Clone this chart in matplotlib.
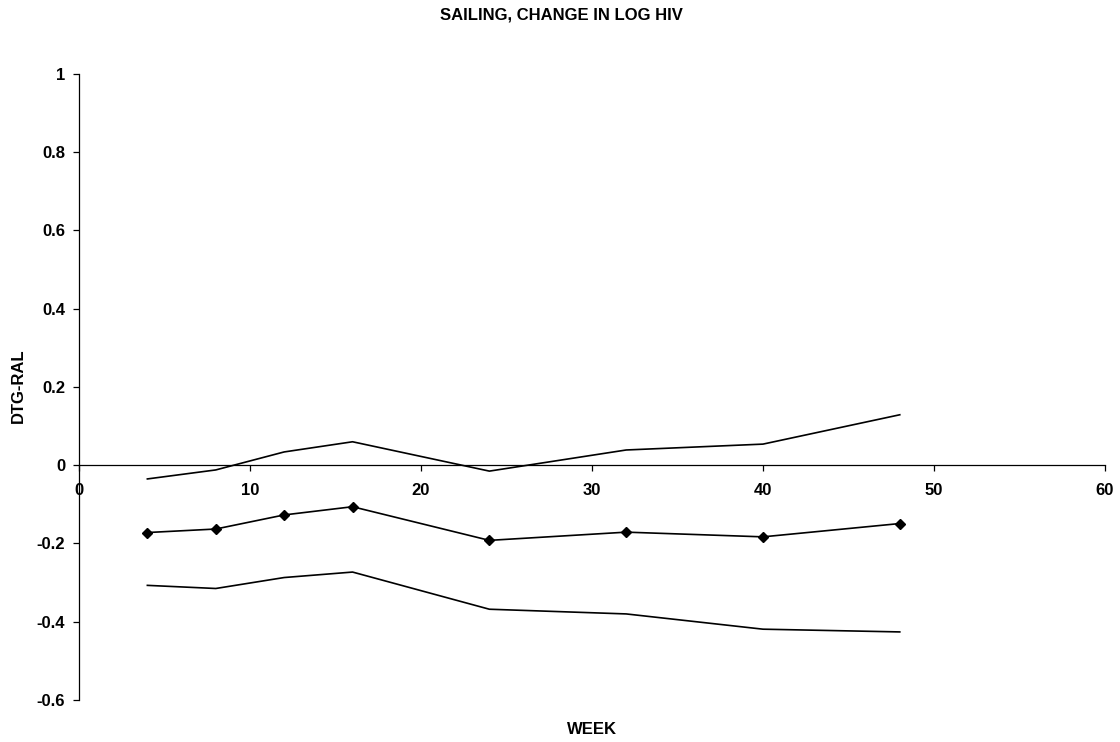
import matplotlib
matplotlib.use("Agg")
import matplotlib.pyplot as plt

# weeks and DTG-RAL difference in change of log HIV (estimate + CI bounds)
weeks = [4, 8, 12, 16, 24, 32, 40, 48]
upper = [-0.035, -0.012, 0.034, 0.060, -0.015, 0.039, 0.054, 0.129]
diff = [-0.172, -0.163, -0.127, -0.106, -0.192, -0.171, -0.183, -0.149]
lower = [-0.307, -0.315, -0.287, -0.273, -0.368, -0.380, -0.419, -0.426]

xticks = [0, 10, 20, 30, 40, 50, 60]
yticks = [-0.6, -0.4, -0.2, 0, 0.2, 0.4, 0.6, 0.8, 1]

plt.rcParams["font.family"] = ["Liberation Sans", "DejaVu Sans"]
plt.rcParams["font.weight"] = "bold"

fig = plt.figure(figsize=(11.2, 7.42), dpi=100)
ax = fig.add_axes([0.0705, 0.0566, 0.9161, 0.8437])

ax.plot(weeks, upper, color="black", lw=1.2)
ax.plot(weeks, diff, color="black", lw=1.2, marker="D", markersize=5.5)
ax.plot(weeks, lower, color="black", lw=1.2)

# spine position first: moving it resets the tick objects
ax.spines["top"].set_visible(False)
ax.spines["right"].set_visible(False)
ax.spines["bottom"].set_position(("data", 0))
ax.spines["left"].set_linewidth(0.9)
ax.spines["bottom"].set_linewidth(0.9)

ax.set_xlim(0, 60)
ax.set_ylim(-0.6, 1)
ax.set_xticks(xticks)
ax.set_yticks(yticks)
ax.set_xticklabels([str(t) for t in xticks])
ax.set_yticklabels([f"{t:g}" for t in yticks])
ax.tick_params(axis="x", direction="out", length=4, width=0.9, pad=8.5, labelsize=12)
ax.tick_params(axis="y", direction="out", length=4, width=0.9, pad=6, labelsize=12)

fig.text(0.501, 0.98, "SAILING, CHANGE IN LOG HIV", ha="center", va="center",
         fontsize=12, fontweight="bold")
fig.text(0.5286, 0.0175, "WEEK", ha="center", va="center", fontsize=12, fontweight="bold")
fig.text(0.016, 0.48, "DTG-RAL", ha="center", va="center", rotation=90,
         fontsize=12, fontweight="bold")

fig.savefig("out.png", dpi=100)
